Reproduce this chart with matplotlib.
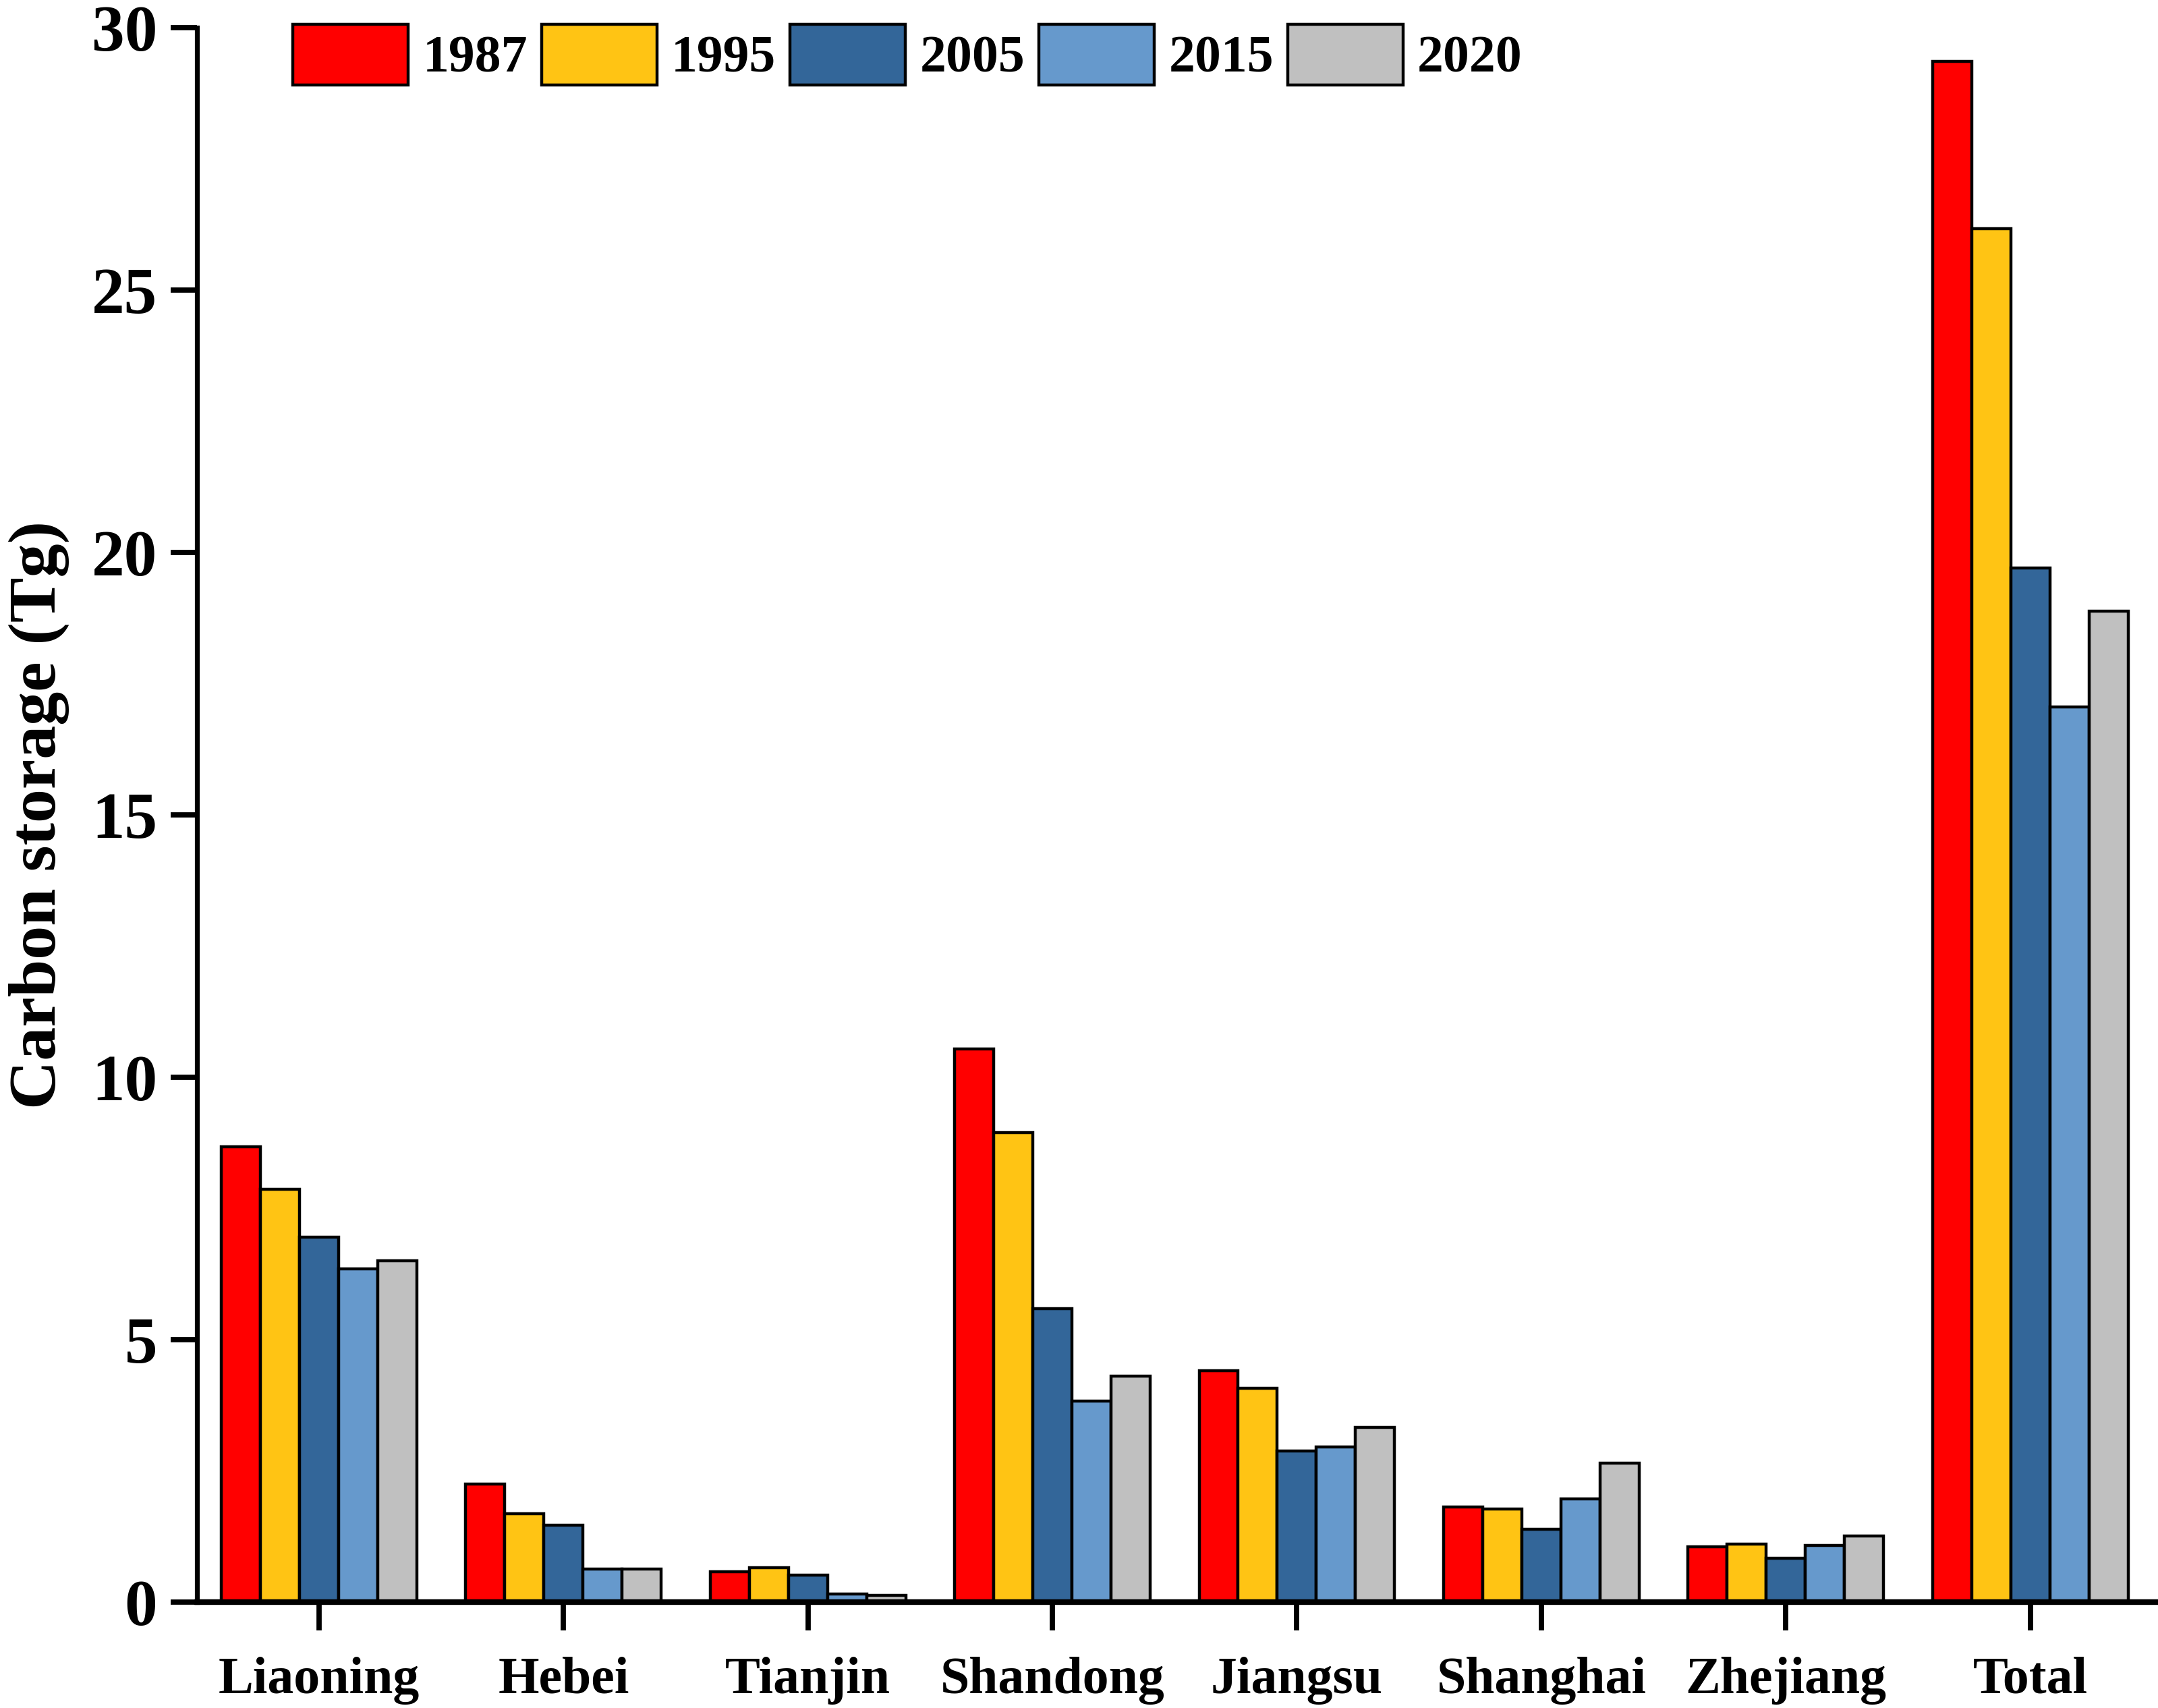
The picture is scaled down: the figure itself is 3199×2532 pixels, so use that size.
import matplotlib
matplotlib.use("Agg")
import matplotlib.pyplot as plt
import numpy as np

# data
regions = ["Liaoning", "Hebei", "Tianjin", "Shandong", "Jiangsu", "Shanghai", "Zhejiang", "Total"]
years = ["1987", "1995", "2005", "2015", "2020"]
c1987 = [8.68, 2.25, 0.58, 10.54, 4.41, 1.81, 1.05, 29.35]
c1995 = [7.87, 1.68, 0.66, 8.94, 4.07, 1.78, 1.10, 26.17]
c2005 = [6.95, 1.47, 0.52, 5.59, 2.88, 1.39, 0.84, 19.70]
c2015 = [6.35, 0.63, 0.16, 3.83, 2.96, 1.97, 1.08, 17.05]
c2020 = [6.50, 0.63, 0.13, 4.30, 3.33, 2.65, 1.26, 18.88]
colors = ["#FF0000", "#FFC414", "#336699", "#6699CC", "#C0C0C0"]

plt.rcParams['font.family'] = ['Liberation Serif', 'DejaVu Serif']
plt.rcParams['font.weight'] = 'bold'

fig = plt.figure(figsize=(15.995, 12.66), dpi=200)
ax = fig.add_axes([0.0912, 0.062, 0.9085, 0.922])

series = [c1987, c1995, c2005, c2015, c2020]
x = np.arange(len(regions))
w = 0.16
for i, vals in enumerate(series):
    ax.bar(x + (i - 2) * w, vals, width=w, color=colors[i], edgecolor='black',
           linewidth=1.6, label=years[i], zorder=2)

ax.set_xlim(-0.5, 7.52)
ax.set_ylim(0, 30)
ax.set_yticks([0, 5, 10, 15, 20, 25, 30])
ax.set_xticks(x)
ax.set_xticklabels(regions, fontsize=28, fontweight='bold')
ax.tick_params(axis='y', labelsize=35, width=2.8, length=14, pad=7)
ax.tick_params(axis='x', width=2.8, length=15, pad=14)
for lab in ax.get_yticklabels():
    lab.set_fontweight('bold')

for s in ['top', 'right']:
    ax.spines[s].set_visible(False)
ax.spines['left'].set_linewidth(2.6)
ax.spines['bottom'].set_linewidth(3.0)

ax.set_ylabel("Carbon storage (Tg)", fontsize=36, fontweight='bold', labelpad=12)

ax.legend(loc='upper left', bbox_to_anchor=(0.033, 1.022), ncol=5, frameon=False,
          handlelength=2.2, handleheight=1.4, handletextpad=0.27,
          columnspacing=0.27, borderpad=0.1, prop={'weight': 'bold', 'size': 28})

fig.savefig("out.png", dpi=200)
